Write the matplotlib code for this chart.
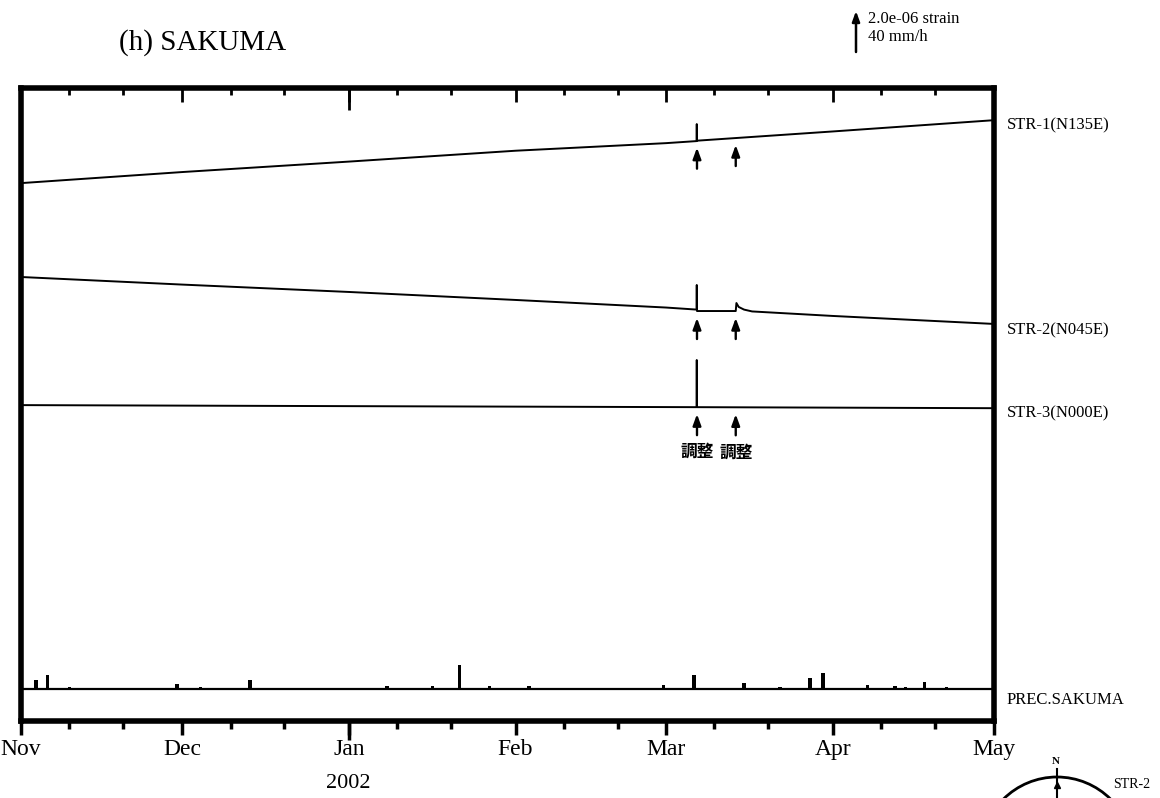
import numpy as np
import pandas as pd
import matplotlib
matplotlib.use("Agg")
import matplotlib.pyplot as plt
import matplotlib.dates as mdates
import matplotlib.patches as patches

plt.rcParams['font.family'] = ['Liberation Serif', 'Noto Sans CJK JP', 'DejaVu Sans']

# strain change, unit 1e-06 strain, relative to 1 Nov 2001
str1_dates = ["2001-11-01", "2001-12-01", "2002-01-01", "2002-02-01", "2002-03-01",
              "2002-03-06 16:00", "2002-03-06 17:00", "2002-03-06 18:00",
              "2002-04-01", "2002-05-01"]
str1_vals = [0.00, 0.54, 1.05, 1.58, 1.95, 2.05, 2.88, 2.07, 2.52, 3.07]

str2_dates = ["2001-11-01", "2001-12-01", "2002-01-01", "2002-02-01", "2002-03-01",
              "2002-03-06 16:00", "2002-03-06 17:00", "2002-03-06 18:00",
              "2002-03-13 23:00", "2002-03-14 02:00", "2002-03-14 12:00",
              "2002-03-15 12:00", "2002-03-17", "2002-04-01", "2002-05-01"]
str2_vals = [0.00, -0.37, -0.73, -1.12, -1.49, -1.59, -0.39, -1.66,
             -1.66, -1.27, -1.46, -1.59, -1.68, -1.90, -2.29]

str3_dates = ["2001-11-01", "2002-01-01", "2002-03-06 16:00", "2002-03-06 17:00",
              "2002-03-06 18:00", "2002-05-01"]
str3_vals = [0.00, -0.05, -0.10, 2.20, -0.10, -0.15]

# hourly precipitation at SAKUMA, mm/h
prec_dates = ["2001-11-03 19:00", "2001-11-06 00:00", "2001-11-10 02:00", "2001-11-30 00:00",
              "2001-12-04 08:00", "2001-12-13 14:00", "2002-01-08 02:00", "2002-01-16 12:00",
              "2002-01-21 12:00", "2002-01-27 05:00", "2002-02-03 12:00", "2002-02-28 14:00",
              "2002-03-06 05:00", "2002-03-15 12:00", "2002-03-22 05:00", "2002-03-27 19:00",
              "2002-03-30 05:00", "2002-04-07 10:00", "2002-04-09 12:00", "2002-04-12 14:00",
              "2002-04-14 12:00", "2002-04-16 00:00", "2002-04-18 00:00", "2002-04-22 05:00"]
prec_vals = [9, 14, 2, 5, 2, 9, 3, 3, 23, 3, 3, 4, 14, 6, 2, 11, 16, 4, 1, 3, 2, 1, 7, 2]

adjust_dates = ["2002-03-06 18:00", "2002-03-13 23:00"]
adjust_text = "調整"

names = ["STR-1(N135E)", "STR-2(N045E)", "STR-3(N000E)", "PREC.SAKUMA"]

# stacking of the traces (axis units = 1e-06 strain)
offsets = [26.24, 21.66, 15.41, 1.56]
prec_scale = 2.0 / 40.0   # 2.0e-06 strain bar == 40 mm/h


def to_dt(s):
    return pd.to_datetime(s, format='ISO8601')


fig = plt.figure(figsize=(11.6, 7.98), dpi=100)
ax = fig.add_axes([21 / 1160, 1 - 721 / 798, 973 / 1160, 633 / 798])

traces = [(str1_dates, str1_vals), (str2_dates, str2_vals), (str3_dates, str3_vals)]
for (d, v), off in zip(traces, offsets):
    ax.plot(to_dt(d), np.array(v) + off, color='black', lw=1.4)

ax.axhline(offsets[3], color='black', lw=1.6)
ax.bar(to_dt(prec_dates), np.array(prec_vals) * prec_scale, bottom=offsets[3],
       width=0.6, color='black')

# adjustment arrows
for ad in adjust_dates:
    t = mdates.date2num(to_dt(ad))
    for (d, v), off in zip(traces, offsets):
        y = np.interp(t, mdates.date2num(to_dt(d)), v) + off
        ax.annotate('', xy=(t, y), xytext=(0, -28), textcoords='offset pixels',
                    arrowprops=dict(arrowstyle='-|>,head_length=0.6,head_width=0.22',
                                    color='black', lw=1.7, shrinkA=0, shrinkB=5,
                                    mutation_scale=11))
    y3 = np.interp(t, mdates.date2num(to_dt(str3_dates)), str3_vals) + offsets[2]
    ax.annotate(adjust_text, xy=(t, y3), xytext=(0, -45), textcoords='offset pixels',
                ha='center', va='center', fontsize=12, fontweight='bold',
                family=['Noto Sans CJK JP'])

# trace names at right
ends = [str1_vals[-1] + offsets[0], str2_vals[-1] + offsets[1], str3_vals[-1] + offsets[2], offsets[3]]
shift = [-5, -6, -5, -11]
for name, y, s in zip(names, ends, shift):
    ax.annotate(name, xy=(1, y), xycoords=('axes fraction', 'data'), xytext=(13, s),
                textcoords='offset pixels', ha='left', va='center', fontsize=12,
                annotation_clip=False)

ax.set_xlim(to_dt("2001-11-01"), to_dt("2002-05-01"))
ax.set_ylim(0, 30.88)
ax.set_yticks([])
for sp in ax.spines.values():
    sp.set_linewidth(4)

months = mdates.MonthLocator()
tens = mdates.DayLocator(bymonthday=[10, 20])
ax.xaxis.set_major_locator(months)
ax.xaxis.set_minor_locator(tens)
ax.xaxis.set_major_formatter(mdates.DateFormatter('%b'))
ax.tick_params(axis='x', which='major', direction='out', length=10, width=2.5, labelsize=17, pad=3)
ax.tick_params(axis='x', which='minor', direction='out', length=5.5, width=2.5)

top = ax.secondary_xaxis('top')
top.xaxis.set_major_locator(mdates.MonthLocator())
top.xaxis.set_minor_locator(mdates.DayLocator(bymonthday=[10, 20]))
top.xaxis.set_major_formatter(plt.NullFormatter())
top.tick_params(axis='x', which='major', direction='in', length=10, width=2)
top.tick_params(axis='x', which='minor', direction='in', length=5, width=2)
top.spines[:].set_visible(False)

# year boundary gets a longer tick on both edges
jan = [mdates.date2num(to_dt("2002-01-01"))]
yb = ax.secondary_xaxis('bottom')
yb.set_xticks(jan)
yb.xaxis.set_major_formatter(plt.NullFormatter())
yb.tick_params(axis='x', direction='out', length=14, width=2.5)
yb.spines[:].set_visible(False)
yt = ax.secondary_xaxis('top')
yt.set_xticks(jan)
yt.xaxis.set_major_formatter(plt.NullFormatter())
yt.tick_params(axis='x', direction='in', length=16, width=2)
yt.spines[:].set_visible(False)

fig.text(348 / 1160, 1 - 783 / 798, "2002", ha='center', va='center', fontsize=16)
fig.text(203 / 1160, 1 - 43 / 798, "(h) SAKUMA", ha='center', va='center', fontsize=21)

# scale bar and compass, drawn in pixel space
ov = fig.add_axes([0, 0, 1, 1])
ov.set_xlim(0, 1160)
ov.set_ylim(798, 0)
ov.set_axis_off()
ov.annotate('', xy=(856, 11), xytext=(856, 52),
            arrowprops=dict(arrowstyle='-|>,head_length=0.6,head_width=0.22', color='black',
                            lw=1.8, shrinkA=0, shrinkB=0, mutation_scale=10))
ov.text(868, 19, "2.0e-06 strain", ha='left', va='center', fontsize=12)
ov.text(868, 37, "40 mm/h", ha='left', va='center', fontsize=12)

ov.add_patch(patches.Circle((1057, 853), 76, fill=False, lw=2, color='black'))
ov.plot([1057, 1057], [769, 800], color='black', lw=1.5)
ov.plot([1057], [785], marker='^', color='black', ms=5)
ov.text(1056, 762, "N", ha='center', va='center', fontsize=8, fontweight='bold')
ov.text(1113, 785, "STR-2", ha='left', va='center', fontsize=10)

fig.savefig("out.png", dpi=100)
